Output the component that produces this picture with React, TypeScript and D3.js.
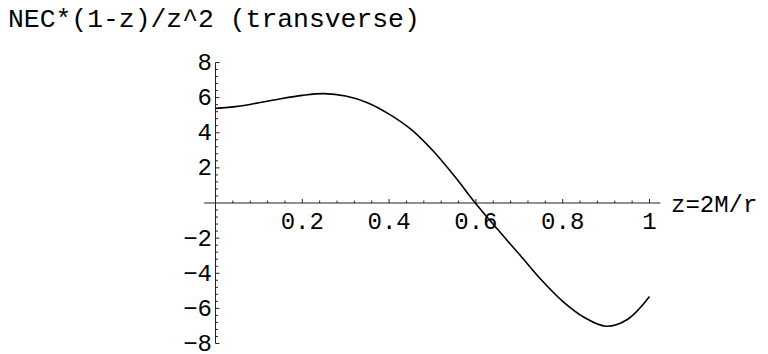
import React from "react";
import * as d3 from "d3";

const titleText = "NEC*(1-z)/z^2 (transverse)";
const xAxisLabel = "z=2M/r";

const zValues = [0, 0.05, 0.1, 0.15, 0.2, 0.25, 0.3, 0.35, 0.4, 0.45, 0.5, 0.55, 0.6, 0.65, 0.7, 0.75, 0.8, 0.85, 0.9, 0.95, 1.0];
const necValues = [5.39, 5.5, 5.71, 5.94, 6.13, 6.23, 6.09, 5.71, 5.06, 4.2, 3.0, 1.55, -0.04, -1.5, -2.92, -4.36, -5.6, -6.52, -7.02, -6.62, -5.33];

const xMajorTicks = [0.2, 0.4, 0.6, 0.8, 1];
const xTickLabels = ["0.2", "0.4", "0.6", "0.8", "1"];
const yMajorTicks = [-8, -6, -4, -2, 2, 4, 6, 8];
const yTickLabels = ["-8", "-6", "-4", "-2", "2", "4", "6", "8"];

const FONT = "'Liberation Mono', 'DejaVu Sans Mono', monospace";

export default function App() {
  const x = d3.scaleLinear().domain([0, 1]).range([215.5, 649.5]);
  const y = d3.scaleLinear().domain([-8, 8]).range([343.5, 62.5]);

  const xMinor = d3.range(0.04, 1.0001, 0.04).filter((v) => Math.abs(v / 0.2 - Math.round(v / 0.2)) > 1e-6);
  const yMinor = d3.range(-8, 8.0001, 0.4).filter((v) => Math.abs(v / 2 - Math.round(v / 2)) > 1e-6);

  const line = d3
    .line<number>()
    .x((_, i) => x(zValues[i]))
    .y((d) => y(d))
    .curve(d3.curveCatmullRom.alpha(0.5));

  const axisColor = "#222";
  const y0 = y(0);
  const x0 = x(0);

  return (
    <svg
      width={768}
      height={354}
      style={{ position: "absolute", left: 0, top: 0, background: "#fff" }}
    >
      <rect width={768} height={354} fill="#fff" />
      <text x={8} y={26.5} fontFamily={FONT} fontSize={26.4} fill="#000">
        {titleText}
      </text>

      {/* x axis */}
      <line x1={x(-0.026)} x2={x(1.025)} y1={y0} y2={y0} stroke={axisColor} strokeWidth={1} />
      {xMajorTicks.map((t) => (
        <line key={"xM" + t} x1={x(t)} x2={x(t)} y1={y0} y2={y0 - 4} stroke={axisColor} strokeWidth={1} />
      ))}
      {xMinor.map((t) => (
        <line key={"xm" + t} x1={x(t)} x2={x(t)} y1={y0} y2={y0 - 2.5} stroke={axisColor} strokeWidth={1} />
      ))}
      {xMajorTicks.map((t, i) => (
        <text key={"xl" + t} x={x(t)} y={228.5} textAnchor="middle" fontFamily={FONT} fontSize={24} fill="#000">
          {xTickLabels[i]}
        </text>
      ))}
      <text x={671} y={211.5} fontFamily={FONT} fontSize={24} fill="#000">
        {xAxisLabel}
      </text>

      {/* y axis */}
      <line x1={x0} x2={x0} y1={y(-8)} y2={y(8)} stroke={axisColor} strokeWidth={1} />
      {yMajorTicks.map((t) => (
        <line key={"yM" + t} x1={x0} x2={x0 + 4} y1={y(t)} y2={y(t)} stroke={axisColor} strokeWidth={1} />
      ))}
      {yMinor.map((t) => (
        <line key={"ym" + t} x1={x0} x2={x0 + 2.5} y1={y(t)} y2={y(t)} stroke={axisColor} strokeWidth={1} />
      ))}
      {yMajorTicks.map((t, i) => (
        <text
          key={"yl" + t}
          x={212}
          y={y(t) + 7.5}
          textAnchor="end"
          fontFamily={FONT}
          fontSize={24}
          fill="#000"
        >
          {yTickLabels[i].replace("-", "\u2212")}
        </text>
      ))}

      <path d={line(necValues) || ""} fill="none" stroke="#000" strokeWidth={1.6} />
    </svg>
  );
}
